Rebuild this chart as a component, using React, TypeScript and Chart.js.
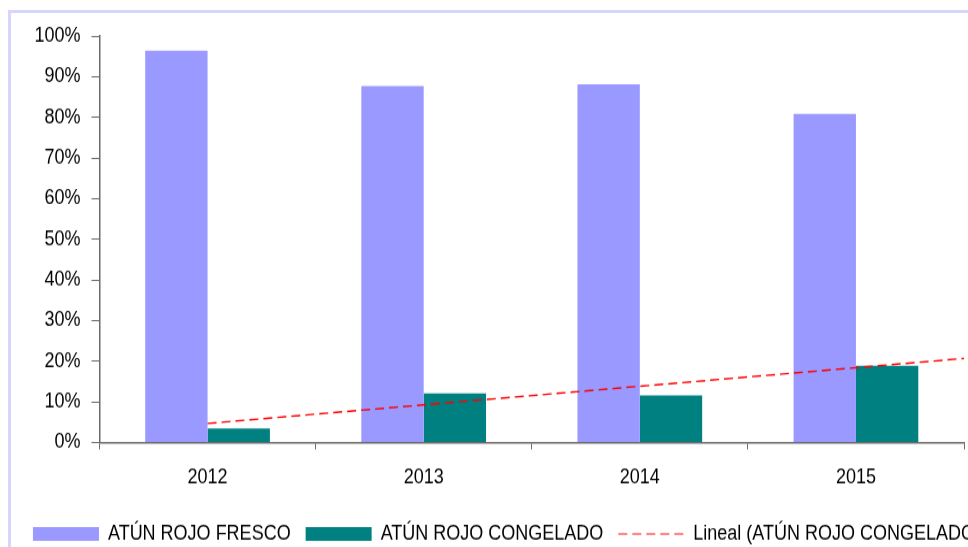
import React, { useEffect, useRef } from "react";
import { Chart, registerables } from "chart.js";

Chart.register(...registerables);

const categories = ["2012", "2013", "2014", "2015"];
const categoryPositions = [1, 2, 3, 4];
const frescoValues = [96.4, 87.7, 88.1, 80.8];
const congeladoValues = [3.5, 12.1, 11.6, 18.9];
// trend line (Lineal): position on the category axis (1 = 2012) and value
const trendX = [1, 4.5];
const trendY = [4.7, 20.7];
const yTicks = [0, 10, 20, 30, 40, 50, 60, 70, 80, 90, 100];

const CANVAS_W = 992;
const CANVAS_H = 472;
const SCALE_Y = 1.15;
const FONT = "'Liberation Sans', Arial, sans-serif";
const AXIS_COLOR = "#6b6b6b";

export default function App() {
  const canvasRef = useRef<HTMLCanvasElement | null>(null);

  useEffect(() => {
    const canvas = canvasRef.current;
    if (!canvas) return;
    Chart.defaults.font.family = FONT;
    Chart.defaults.font.size = 18;
    Chart.defaults.color = "#000";

    const chart = new Chart(canvas, {
      type: "bar",
      data: {
        datasets: [
          {
            type: "bar",
            label: "ATÚN ROJO FRESCO",
            data: categoryPositions.map((x, i) => ({ x, y: frescoValues[i] })),
            backgroundColor: "#9999FF",
            borderWidth: 0,
            categoryPercentage: 0.577,
            barPercentage: 1,
            order: 1,
          } as any,
          {
            type: "bar",
            label: "ATÚN ROJO CONGELADO",
            data: categoryPositions.map((x, i) => ({ x, y: congeladoValues[i] })),
            backgroundColor: "#008080",
            borderWidth: 0,
            categoryPercentage: 0.577,
            barPercentage: 1,
            order: 1,
          } as any,
          {
            type: "line",
            label: "Lineal (ATÚN ROJO CONGELADO)",
            data: trendX.map((x, i) => ({ x, y: trendY[i] })),
            borderColor: "#FF0000",
            borderWidth: 1.4,
            borderDash: [9, 5],
            pointRadius: 0,
            fill: false,
            order: -1,
          } as any,
        ],
      },
      options: {
        animation: false,
        responsive: false,
        layout: { padding: { top: 18.3, left: 0, right: 0, bottom: 0 } },
        plugins: {
          tooltip: { enabled: false },
          title: {
            display: true,
            text: "",
            position: "right",
            fullSize: false,
            padding: 0,
            font: { size: 32.5, lineHeight: 1.2 },
          },
          legend: {
            position: "bottom",
            labels: {
              usePointStyle: true,
              pointStyleWidth: 66,
              boxHeight: 12.2,
              padding: 15,
              color: "#000",
              font: { family: FONT, size: 18 },
              generateLabels: (c: any) => {
                const items = (Chart.defaults.plugins.legend.labels as any).generateLabels(c);
                items.sort((a: any, b: any) => a.datasetIndex - b.datasetIndex);
                items.forEach((it: any) => {
                  const ds: any = c.data.datasets[it.datasetIndex];
                  if (ds.type === "line") {
                    it.pointStyle = "line";
                    it.strokeStyle = "#FF6060";
                    it.lineWidth = 1.4;
                    it.lineDash = [9, 5];
                  } else {
                    it.pointStyle = "rect";
                    it.lineWidth = 0;
                  }
                });
                return items;
              },
            },
          },
        },
        scales: {
          x: {
            type: "linear",
            position: "bottom",
            offset: false,
            min: 0.5,
            max: 4.5,
            afterBuildTicks: (s: any) => {
              s.ticks = categoryPositions.map((v) => ({ value: v }));
            },
            grid: {
              offset: true,
              drawOnChartArea: false,
              drawTicks: true,
              tickLength: 6,
              color: AXIS_COLOR,
            },
            border: { display: true, color: AXIS_COLOR, width: 1.5 },
            ticks: {
              padding: 13.5,
              color: "#000",
              font: { size: 18, family: FONT },
              maxRotation: 0,
              autoSkip: false,
              callback: (v: any) => categories[categoryPositions.indexOf(v)] ?? "",
            },
            afterFit: (s: any) => {
              s.height = 55.5;
            },
          },
          y: {
            type: "linear",
            position: "left",
            min: 0,
            max: 100,
            afterBuildTicks: (s: any) => {
              s.ticks = yTicks.map((v) => ({ value: v }));
            },
            grid: {
              drawOnChartArea: false,
              drawTicks: true,
              tickLength: 8,
              color: AXIS_COLOR,
            },
            border: { display: true, color: AXIS_COLOR, width: 1.5 },
            ticks: {
              padding: 11,
              color: "#000",
              font: { size: 18, family: FONT, lineHeight: 1 },
              callback: (v: any) => `${v}%`,
            },
            afterFit: (s: any) => {
              s.width = 88.5;
            },
          },
        },
      } as any,
    });
    return () => chart.destroy();
  }, []);

  return (
    <div
      style={{
        position: "absolute",
        left: 8,
        top: 10,
        width: 960,
        height: 537,
        overflow: "hidden",
        borderTop: "3px solid #D6D6FC",
        borderLeft: "3px solid #D6D6FC",
        boxSizing: "border-box",
        background: "#fff",
      }}
    >
      <div
        style={{
          position: "absolute",
          left: 0,
          top: 0,
          width: CANVAS_W,
          height: CANVAS_H,
          transform: `scaleY(${SCALE_Y})`,
          transformOrigin: "0 0",
        }}
      >
        <canvas
          ref={canvasRef}
          width={CANVAS_W}
          height={CANVAS_H}
          style={{ width: CANVAS_W, height: CANVAS_H, display: "block" }}
        />
      </div>
    </div>
  );
}
